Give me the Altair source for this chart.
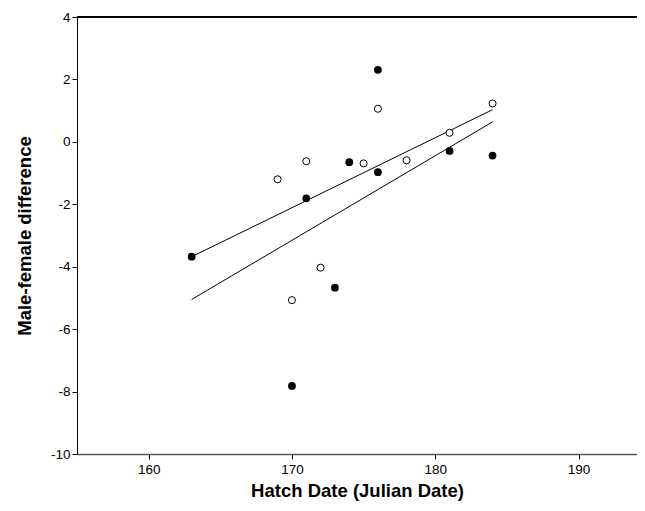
import altair as alt
import pandas as pd

# Filled circles
filled_x = [163, 170, 171, 173, 174, 176, 176, 181, 184]
filled_y = [-3.68, -7.82, -1.81, -4.67, -0.65, 2.31, -0.97, -0.29, -0.44]
# Open circles
open_x = [169, 170, 171, 172, 175, 176, 178, 181, 184]
open_y = [-1.20, -5.07, -0.62, -4.03, -0.69, 1.06, -0.59, 0.29, 1.23]
# Regression lines (end points)
line_open_x = [163, 184]
line_open_y = [-3.68, 1.03]
line_filled_x = [163, 184]
line_filled_y = [-5.05, 0.64]

x_ticks = [160, 170, 180, 190]
y_ticks = [-10, -8, -6, -4, -2, 0, 2, 4]

W, H = 560, 437

df_f = pd.DataFrame({"x": filled_x, "y": filled_y})
df_o = pd.DataFrame({"x": open_x, "y": open_y})
df_l = pd.DataFrame({
    "x": line_open_x + line_filled_x,
    "y": line_open_y + line_filled_y,
    "g": ["open"] * 2 + ["filled"] * 2,
})

FONT = "Liberation Sans, Arial"

xs = alt.Scale(domain=[155, 194.08], nice=False, zero=False)
ys = alt.Scale(domain=[-10, 4], nice=False, zero=False)

xax = alt.Axis(values=x_ticks, title="Hatch Date (Julian Date)", grid=False,
               domainColor="#555555", domainWidth=1.5, tickColor="#000000",
               tickSize=5, labelPadding=3, labelFontSize=13.5, labelColor="#000000",
               labelFont=FONT, titleFont=FONT, titleFontSize=18.5, titleFontWeight="bold",
               titleColor="#000000", titlePadding=6,
               labelExpr="'' + datum.value")
yax = alt.Axis(values=y_ticks, title="Male-female difference", grid=False,
               domainColor="#000000", domainWidth=1, tickColor="#000000",
               tickSize=5, labelPadding=2, labelFontSize=13.5, labelColor="#000000",
               labelFont=FONT, titleFont=FONT, titleFontSize=18.5, titleFontWeight="bold",
               titleColor="#000000", titlePadding=16,
               labelExpr="'' + datum.value")

lines = alt.Chart(df_l).mark_line(color="#000000", strokeWidth=1).encode(
    x=alt.X("x:Q", scale=xs, axis=xax),
    y=alt.Y("y:Q", scale=ys, axis=yax),
    detail="g:N",
)
pf = alt.Chart(df_f).mark_point(shape="circle", filled=True, color="#000000",
                                 size=60, opacity=1).encode(
    x=alt.X("x:Q", scale=xs), y=alt.Y("y:Q", scale=ys))
po = alt.Chart(df_o).mark_point(shape="circle", filled=True, fill="#ffffff",
                                 stroke="#000000", strokeWidth=1, size=50,
                                 opacity=1).encode(
    x=alt.X("x:Q", scale=xs), y=alt.Y("y:Q", scale=ys))
top = alt.Chart(df_f).mark_rule(color="#000000", strokeWidth=1).encode(
    x=alt.value(0), x2=alt.value(W), y=alt.value(0))

chart = alt.layer(lines, pf, po, top).properties(
    width=W, height=H,
    autosize=alt.AutoSizeParams(type="none"),
    padding={"left": 69, "top": 9, "right": 0, "bottom": 50},
).configure_view(stroke=None).configure(background="#ffffff")

chart.save("out.html", embed_options={"renderer": "svg", "actions": False})
